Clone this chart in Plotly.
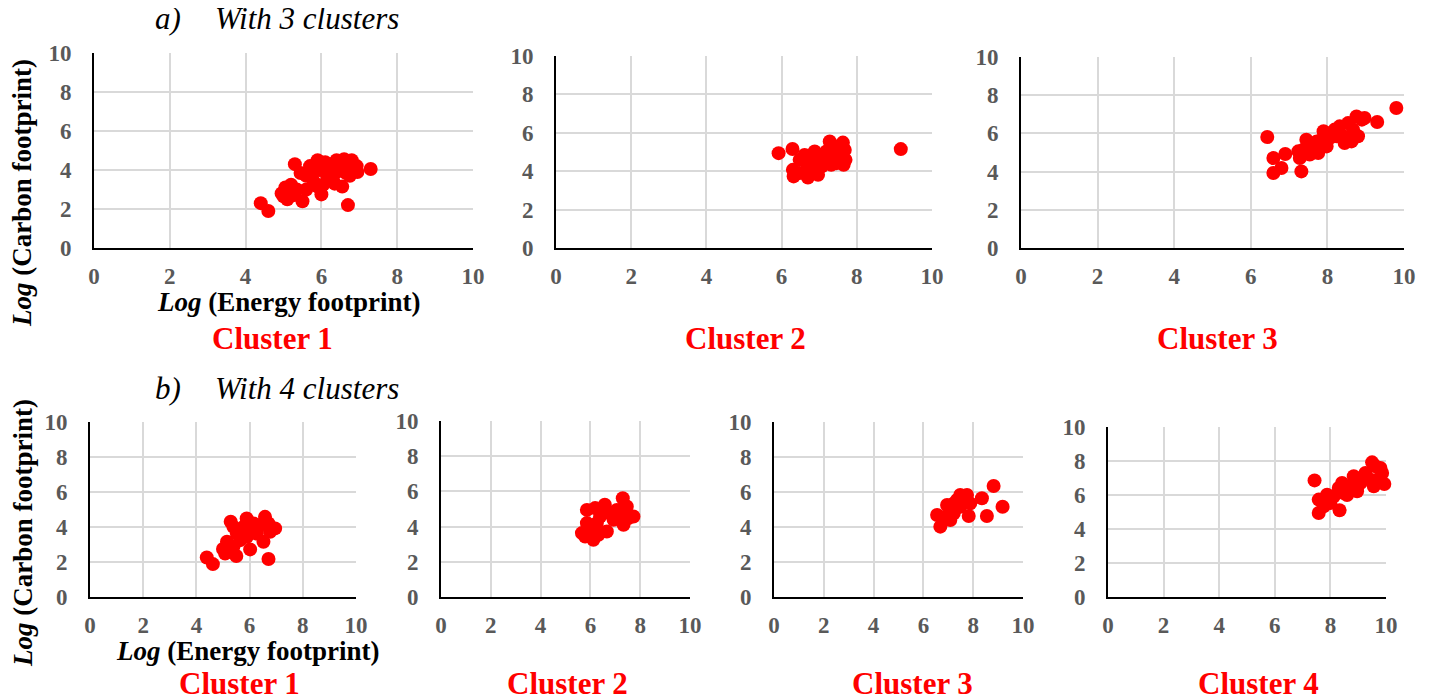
import plotly.graph_objects as go

# The page places the figure 8 px in from the top-left corner, so the figure is
# sized to fill the remaining window area and positions are given in window pixels.
OFF = 8
W, H = 1432 - OFF, 700 - OFF

# ---------------- data ----------------
tick_vals = [0, 2, 4, 6, 8, 10]
tick_text = ["0", "2", "4", "6", "8", "10"]

# a) With 3 clusters
a1_x = [4.4, 4.6, 5.3, 6.7, 7.3, 5.9, 6.4, 6.6, 6.8, 6.55, 5.5, 6.0, 5.0, 5.1, 5.05, 4.95, 5.2,
        6.95, 6.85, 5.45, 5.6, 5.7, 5.8, 5.95, 6.15, 6.25, 6.3, 6.4, 5.9, 5.6, 5.35, 6.05, 6.65,
        6.5, 6.75, 5.75, 6.1, 6.35, 5.25, 6.93]
a1_y = [2.3, 1.9, 4.3, 2.2, 4.05, 4.5, 4.5, 4.55, 4.5, 3.15, 2.4, 2.75, 2.65, 2.5, 3.1, 2.8, 3.25,
        3.9, 4.25, 3.85, 3.7, 4.2, 3.4, 4.0, 3.7, 4.2, 3.5, 3.9, 3.15, 3.0, 3.0, 3.25, 3.85,
        4.2, 3.7, 3.75, 4.4, 3.3, 2.7, 4.2]

a2_x = [5.92, 9.17, 6.29, 6.32, 6.7, 7.28, 7.63, 7.68, 7.7, 7.65, 7.32, 6.3, 6.48, 6.84, 7.01,
        6.93, 7.07, 7.19, 7.37, 7.5, 6.7, 6.61, 6.88, 6.97, 6.48, 7.46, 7.54, 7.19]
a2_y = [4.94, 5.15, 5.16, 3.73, 3.67, 5.55, 5.49, 5.11, 4.59, 4.33, 4.33, 4.07, 4.59, 4.59, 4.77,
        4.07, 4.25, 5.03, 4.77, 5.29, 4.25, 4.85, 5.03, 3.81, 3.9, 4.42, 4.94, 4.51]

a3_x = [6.43, 9.8, 9.3, 6.59, 6.59, 6.8, 6.9, 7.32, 7.28, 7.37, 7.45, 7.54, 7.63, 7.76, 7.85,
        7.9, 7.98, 8.06, 8.19, 8.32, 8.41, 8.45, 8.54, 8.63, 8.76, 8.8, 8.9, 8.97, 8.67, 8.24,
        7.72, 7.5, 7.24]
a3_y = [5.81, 7.33, 6.6, 3.93, 4.71, 4.19, 4.92, 4.01, 4.71, 5.15, 5.67, 4.89, 5.32, 4.97, 5.67,
        6.11, 5.32, 5.76, 6.2, 6.37, 5.85, 5.5, 6.54, 5.58, 6.89, 5.85, 6.72, 6.81, 6.2, 5.85,
        5.58, 5.24, 5.06]

# b) With 4 clusters
b1_x = [4.39, 4.62, 5.29, 6.71, 6.96, 5.89, 6.58, 6.52, 5.5, 6.02, 5.0, 5.15, 5.08, 5.52, 5.77,
        5.65, 6.02, 6.15, 6.27, 6.4, 6.71, 5.9, 5.39, 5.39, 6.77]
b1_y = [2.26, 1.88, 4.3, 2.17, 3.92, 4.49, 4.58, 3.16, 2.34, 2.72, 2.74, 3.16, 2.49, 3.63, 4.01,
        3.25, 3.82, 4.2, 3.63, 4.11, 4.2, 3.44, 4.01, 2.87, 3.73]

b2_x = [5.86, 5.66, 6.12, 7.3, 7.73, 6.66, 6.19, 6.58, 6.93, 7.33, 5.86, 6.26, 6.39, 6.06, 7.06,
        7.46, 7.53, 6.79, 5.79, 6.32, 7.19]
b2_y = [4.95, 3.63, 3.25, 5.61, 4.57, 3.72, 5.05, 5.24, 4.39, 4.1, 4.2, 4.2, 4.57, 3.82, 4.95,
        5.14, 4.48, 4.76, 3.44, 3.53, 4.57]

b3_x = [6.55, 6.68, 8.82, 9.18, 8.55, 8.35, 7.82, 7.75, 7.48, 7.08, 6.95, 7.22, 7.48, 7.22, 6.88,
        7.88, 7.35]
b3_y = [4.69, 4.02, 6.34, 5.16, 4.63, 5.64, 4.63, 5.83, 5.83, 4.4, 5.26, 5.35, 5.16, 4.78, 4.59,
        5.35, 5.54]

b4_x = [7.43, 7.58, 7.58, 8.33, 9.94, 9.5, 9.8, 9.86, 7.88, 7.76, 8.12, 8.42, 8.48, 8.72, 8.84,
        8.6, 9.08, 9.26, 9.56, 9.44, 9.68, 8.96, 8.3, 8.0, 9.62]
b4_y = [6.86, 4.94, 5.73, 5.1, 6.65, 7.92, 7.59, 7.29, 6.02, 5.33, 5.92, 6.71, 6.12, 6.51, 7.1,
        6.0, 6.71, 7.29, 6.51, 6.9, 6.9, 6.22, 6.41, 5.53, 7.69]

panel_data = [(a1_x, a1_y), (a2_x, a2_y), (a3_x, a3_y),
              (b1_x, b1_y), (b2_x, b2_y), (b3_x, b3_y), (b4_x, b4_y)]
panel_labels = ["Cluster 1", "Cluster 2", "Cluster 3",
                "Cluster 1", "Cluster 2", "Cluster 3", "Cluster 4"]

# ---------------- layout (window-pixel boxes: left, right, top, bottom) ----------------
boxes = [(94, 473, 53, 248), (556, 932, 56, 248), (1021, 1404, 57, 248),
         (90, 356, 422, 597), (441, 690, 421, 597), (774, 1023, 422, 597), (1108, 1386, 427, 597)]
label_pos = [(272, 338), (745, 338), (1217, 338),
             (239, 683), (567, 683), (912, 683), (1258, 683)]

SERIF = '"Liberation Serif", "Times New Roman", Times, serif'
RED = "#ff0000"
GRID = "#d9d9d9"
TICKC = "#595959"

fig = go.Figure()
layout = dict(width=W, height=H, margin=dict(l=0, r=0, t=0, b=0, pad=0, autoexpand=False),
              plot_bgcolor="white", paper_bgcolor="white", showlegend=False)

def px(xp):
    return (xp - OFF) / W

def py(yp):
    return 1 - (yp - OFF) / H

annotations = []
for i, ((xs, ys), (l, r, t, b), lab, (lx, ly)) in enumerate(zip(panel_data, boxes, panel_labels, label_pos)):
    n = i + 1
    xa = "xaxis" if n == 1 else f"xaxis{n}"
    ya = "yaxis" if n == 1 else f"yaxis{n}"
    xr = "x" if n == 1 else f"x{n}"
    yr = "y" if n == 1 else f"y{n}"
    fig.add_trace(go.Scatter(x=xs, y=ys, mode="markers", xaxis=xr, yaxis=yr, cliponaxis=False,
                             marker=dict(color=RED, size=14, line=dict(width=0))))
    common = dict(range=[0, 10], tickvals=tick_vals, ticktext=tick_text,
                  showgrid=True, gridcolor=GRID, gridwidth=1.5, zeroline=False,
                  showline=True, linecolor="black", linewidth=2, mirror=False,
                  ticks="", fixedrange=True, automargin=False,
                  tickfont=dict(family=SERIF, size=23, color=TICKC, weight="bold"))
    layout[xa] = dict(common, domain=[px(l), px(r)], anchor=yr, ticklabelstandoff=6)
    layout[ya] = dict(common, domain=[py(b), py(t)], anchor=xr, ticklabelstandoff=16)
    annotations.append(dict(text=f"<b>{lab}</b>", x=px(lx), y=py(ly), xref="paper", yref="paper",
                            showarrow=False, xanchor="center", yanchor="middle",
                            font=dict(family=SERIF, size=31, color=RED)))

# section titles
for tag, txt, ty in [("a)", "With 3 clusters", 18), ("b)", "With 4 clusters", 388)]:
    annotations.append(dict(text=f"<i>{tag}</i>", x=px(153), y=py(ty), xref="paper", yref="paper",
                            showarrow=False, xanchor="left", yanchor="middle",
                            font=dict(family=SERIF, size=31, color="black")))
    annotations.append(dict(text=f"<i>{txt}</i>", x=px(213), y=py(ty), xref="paper", yref="paper",
                            showarrow=False, xanchor="left", yanchor="middle",
                            font=dict(family=SERIF, size=31, color="black")))

# axis titles (only for first panel of each row)
for (xt_x, xt_y, yt_x, yt_y) in [(288, 302, 22, 193), (247, 651, 23, 533)]:
    annotations.append(dict(text="<b><i>Log</i> (Energy footprint)</b>", x=px(xt_x), y=py(xt_y),
                            xref="paper", yref="paper", showarrow=False,
                            xanchor="center", yanchor="middle",
                            font=dict(family=SERIF, size=27, color="black")))
    annotations.append(dict(text="<b><i>Log</i> (Carbon footprint)</b>", x=px(yt_x), y=py(yt_y),
                            xref="paper", yref="paper", showarrow=False, textangle=-90,
                            xanchor="center", yanchor="middle",
                            font=dict(family=SERIF, size=27, color="black")))

layout["annotations"] = annotations
fig.update_layout(**layout)
fig.write_html("out.html")
